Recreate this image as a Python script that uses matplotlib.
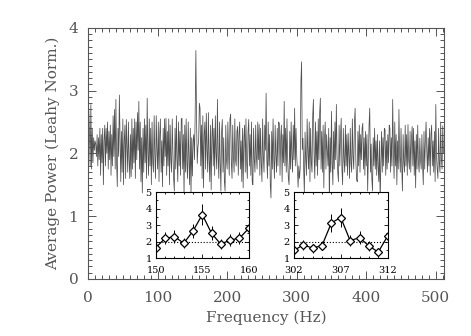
import numpy as np
import matplotlib
matplotlib.use("Agg")
import matplotlib.pyplot as plt
from matplotlib.ticker import MultipleLocator

# averaged power spectrum, 1 Hz bins from 0 to 511 Hz
power = [
    2.80, 2.70, 2.30, 1.80, 2.78, 1.75, 2.40, 1.85, 2.25, 2.05, 2.20, 2.15, 1.95, 2.30, 1.80, 2.25,
    1.90, 2.40, 1.65, 2.30, 1.85, 2.40, 1.50, 2.20, 2.45, 1.80, 2.40, 2.00, 2.50, 1.75, 2.35, 1.90,
    2.45, 1.65, 2.30, 1.80, 2.60, 1.95, 2.70, 1.75, 2.86, 1.85, 1.47, 2.40, 1.95, 2.93, 2.25, 1.55,
    2.35, 1.70, 2.55, 1.50, 2.20, 2.45, 1.60, 2.54, 2.10, 1.70, 2.50, 1.90, 1.60, 2.30, 1.63, 2.55,
    1.75, 2.40, 1.85, 2.55, 1.60, 2.50, 1.90, 2.65, 2.05, 2.83, 1.75, 2.50, 1.55, 2.25, 1.37, 2.40,
    1.70, 2.55, 1.85, 2.45, 1.60, 2.88, 2.00, 1.65, 2.55, 1.80, 2.40, 1.50, 2.50, 1.85, 1.70, 2.60,
    1.95, 1.60, 2.60, 2.05, 1.75, 2.50, 1.55, 2.30, 2.55, 1.70, 2.20, 1.47, 2.40, 1.80, 2.55, 1.95,
    2.56, 1.65, 2.35, 1.80, 2.55, 1.50, 2.45, 1.90, 1.70, 2.55, 2.00, 1.60, 1.40, 2.40, 1.75, 2.60,
    1.90, 1.55, 2.50, 1.80, 2.35, 1.65, 2.55, 2.56, 1.75, 2.30, 1.31, 2.45, 1.70, 2.55, 1.85, 1.60,
    2.50, 1.90, 1.50, 2.40, 1.31, 2.25, 1.64, 2.20, 2.30, 1.90, 2.64, 3.64, 2.50, 1.84, 2.10, 2.20,
    2.80, 2.72, 1.80, 2.45, 1.60, 2.60, 1.45, 2.30, 2.50, 1.75, 2.64, 2.05, 1.70, 2.65, 1.90, 1.55,
    2.45, 1.42, 2.25, 2.55, 1.80, 2.40, 1.65, 2.60, 2.00, 1.75, 2.86, 1.95, 1.60, 2.50, 1.85, 1.40,
    2.35, 2.54, 1.70, 2.25, 1.55, 1.40, 2.45, 1.90, 1.75, 2.50, 2.00, 1.65, 2.55, 2.62, 1.85, 1.60,
    2.45, 1.95, 1.70, 2.55, 1.90, 1.80, 2.35, 2.43, 1.65, 2.30, 2.50, 1.75, 2.20, 1.55, 2.40, 1.45,
    2.25, 2.45, 1.70, 2.55, 1.85, 1.60, 2.35, 2.54, 1.80, 2.30, 1.65, 2.50, 1.55, 1.50, 2.40, 1.90,
    1.70, 2.45, 1.95, 1.75, 2.50, 1.90, 2.46, 1.65, 2.40, 1.85, 1.55, 2.55, 1.95, 1.70, 2.45, 2.05,
    2.96, 1.90, 1.60, 2.50, 1.80, 2.30, 1.50, 1.29, 2.35, 1.75, 2.55, 1.90, 1.60, 2.45, 1.95, 1.70,
    2.40, 1.80, 2.50, 2.48, 1.65, 2.25, 2.45, 1.55, 2.30, 1.85, 2.83, 1.80, 2.40, 1.70, 2.55, 1.90,
    1.60, 1.50, 2.35, 1.75, 2.50, 1.95, 1.70, 2.45, 1.90, 2.72, 1.80, 2.40, 1.95, 1.75, 1.46, 1.80,
    1.60, 1.76, 3.14, 3.46, 2.06, 2.24, 1.74, 1.36, 2.34, 1.90, 1.65, 2.55, 2.00, 1.75, 2.50, 1.55,
    2.40, 1.85, 1.70, 2.60, 2.86, 1.95, 1.60, 2.50, 1.80, 2.35, 1.65, 2.55, 1.90, 2.65, 2.88, 1.75,
    2.35, 1.70, 2.45, 1.45, 2.25, 2.50, 1.75, 2.30, 2.06, 1.80, 2.40, 1.15, 2.25, 1.70, 2.67, 1.85,
    1.50, 2.35, 1.75, 2.50, 1.90, 2.78, 1.95, 1.70, 1.55, 2.45, 1.80, 2.30, 2.56, 1.75, 1.50, 2.40,
    1.90, 1.70, 2.45, 1.80, 2.30, 1.65, 2.32, 1.95, 1.60, 2.40, 1.85, 1.70, 2.55, 1.95, 1.75, 2.50,
    2.72, 1.90, 1.60, 1.55, 2.35, 1.80, 2.45, 1.70, 2.30, 1.90, 2.40, 2.48, 1.75, 2.25, 1.65, 2.35,
    1.80, 2.30, 1.40, 1.90, 2.45, 2.72, 1.70, 2.15, 1.60, 1.40, 2.25, 1.80, 2.40, 1.75, 2.20, 1.65,
    2.30, 1.80, 1.55, 2.20, 1.18, 1.85, 2.35, 1.70, 2.25, 1.80, 2.40, 2.38, 1.65, 2.20, 1.75, 2.30,
    1.85, 2.45, 2.40, 1.70, 2.25, 1.80, 2.86, 2.05, 1.60, 2.50, 1.80, 2.30, 1.50, 2.20, 1.75, 2.70,
    1.95, 1.70, 2.40, 1.80, 1.40, 2.30, 1.85, 1.70, 2.45, 1.80, 2.30, 1.65, 2.46, 1.90, 1.75, 2.35,
    1.70, 2.25, 2.43, 1.80, 2.40, 1.65, 2.20, 1.45, 2.30, 1.75, 2.45, 1.85, 1.70, 2.24, 1.90, 1.75,
    2.30, 1.80, 1.50, 2.35, 1.75, 2.20, 2.50, 2.05, 1.70, 2.25, 1.80, 2.40, 1.65, 2.30, 2.45, 1.80,
    2.20, 1.70, 2.35, 1.55, 2.78, 1.95, 1.75, 1.60, 2.40, 1.85, 1.70, 2.50, 1.90, 1.75, 2.44, 2.00,
]
freq = np.arange(len(power))

# zoomed views around the two peaks
freq1 = [150, 151, 152, 153, 154, 155, 156, 157, 158, 159, 160]
pow1 = [1.64, 2.20, 2.30, 1.90, 2.64, 3.64, 2.50, 1.84, 2.10, 2.20, 2.80]
err1 = [0.28, 0.37, 0.39, 0.32, 0.45, 0.62, 0.42, 0.31, 0.36, 0.37, 0.48]
freq2 = [302, 303, 304, 305, 306, 307, 308, 309, 310, 311, 312]
pow2 = [1.46, 1.80, 1.60, 1.76, 3.14, 3.46, 2.06, 2.24, 1.74, 1.36, 2.34]
err2 = [0.25, 0.31, 0.27, 0.30, 0.53, 0.59, 0.35, 0.38, 0.30, 0.23, 0.40]

grey = '#555555'
plt.rcParams['font.family'] = ['DejaVu Serif']

fig = plt.figure(figsize=(4.71, 3.36), dpi=100)
ax = fig.add_axes([0.187, 0.170, 0.756, 0.747])
ax.plot(freq, power, color='#505050', lw=0.55)
ax.set_xlim(0, 512)
ax.set_ylim(0, 4)
ax.xaxis.set_major_locator(MultipleLocator(100))
ax.xaxis.set_minor_locator(MultipleLocator(10))
ax.yaxis.set_major_locator(MultipleLocator(1))
ax.yaxis.set_minor_locator(MultipleLocator(0.1))
ax.tick_params(which='both', direction='in', top=True, right=True,
               colors=grey, labelcolor=grey, labelsize=11, width=0.7)
ax.tick_params(which='major', length=6)
ax.tick_params(axis='x', which='major', pad=9)
ax.tick_params(axis='y', which='major', pad=7)
ax.tick_params(which='minor', length=3)
for s in ax.spines.values():
    s.set_color(grey)
    s.set_linewidth(0.8)
ax.set_xlabel('Frequency (Hz)', color=grey, fontsize=11, labelpad=4)
ax.set_ylabel('Average Power (Leahy Norm.)', color=grey, fontsize=11, labelpad=6)


def inset(rect, fx, fy, fe, ticks):
    a = fig.add_axes(rect)
    a.set_facecolor('white')
    a.axhline(2, color='black', lw=0.8, ls=':')
    a.errorbar(fx, fy, yerr=fe, color='black', lw=0.9, elinewidth=0.7,
               marker='D', markersize=4, mfc='white', mec='black', mew=0.9, capsize=0)
    a.set_xlim(ticks[0], ticks[-1])
    a.set_ylim(1, 5)
    a.set_xticks(ticks)
    a.set_yticks([1, 2, 3, 4, 5])
    a.xaxis.set_minor_locator(MultipleLocator(1))
    a.yaxis.set_minor_locator(MultipleLocator(0.5))
    a.tick_params(which='both', direction='in', top=True, right=True,
                  labelsize=7, colors='black', width=0.6)
    a.tick_params(which='major', length=3, pad=3)
    a.tick_params(axis='x', which='major', pad=6)
    a.tick_params(which='minor', length=1.5)
    for s in a.spines.values():
        s.set_linewidth(0.8)
    return a


inset([0.331, 0.232, 0.197, 0.196], freq1, pow1, err1, [150, 155, 160])
inset([0.624, 0.232, 0.199, 0.196], freq2, pow2, err2, [302, 307, 312])

fig.savefig('out.png', dpi=100)
